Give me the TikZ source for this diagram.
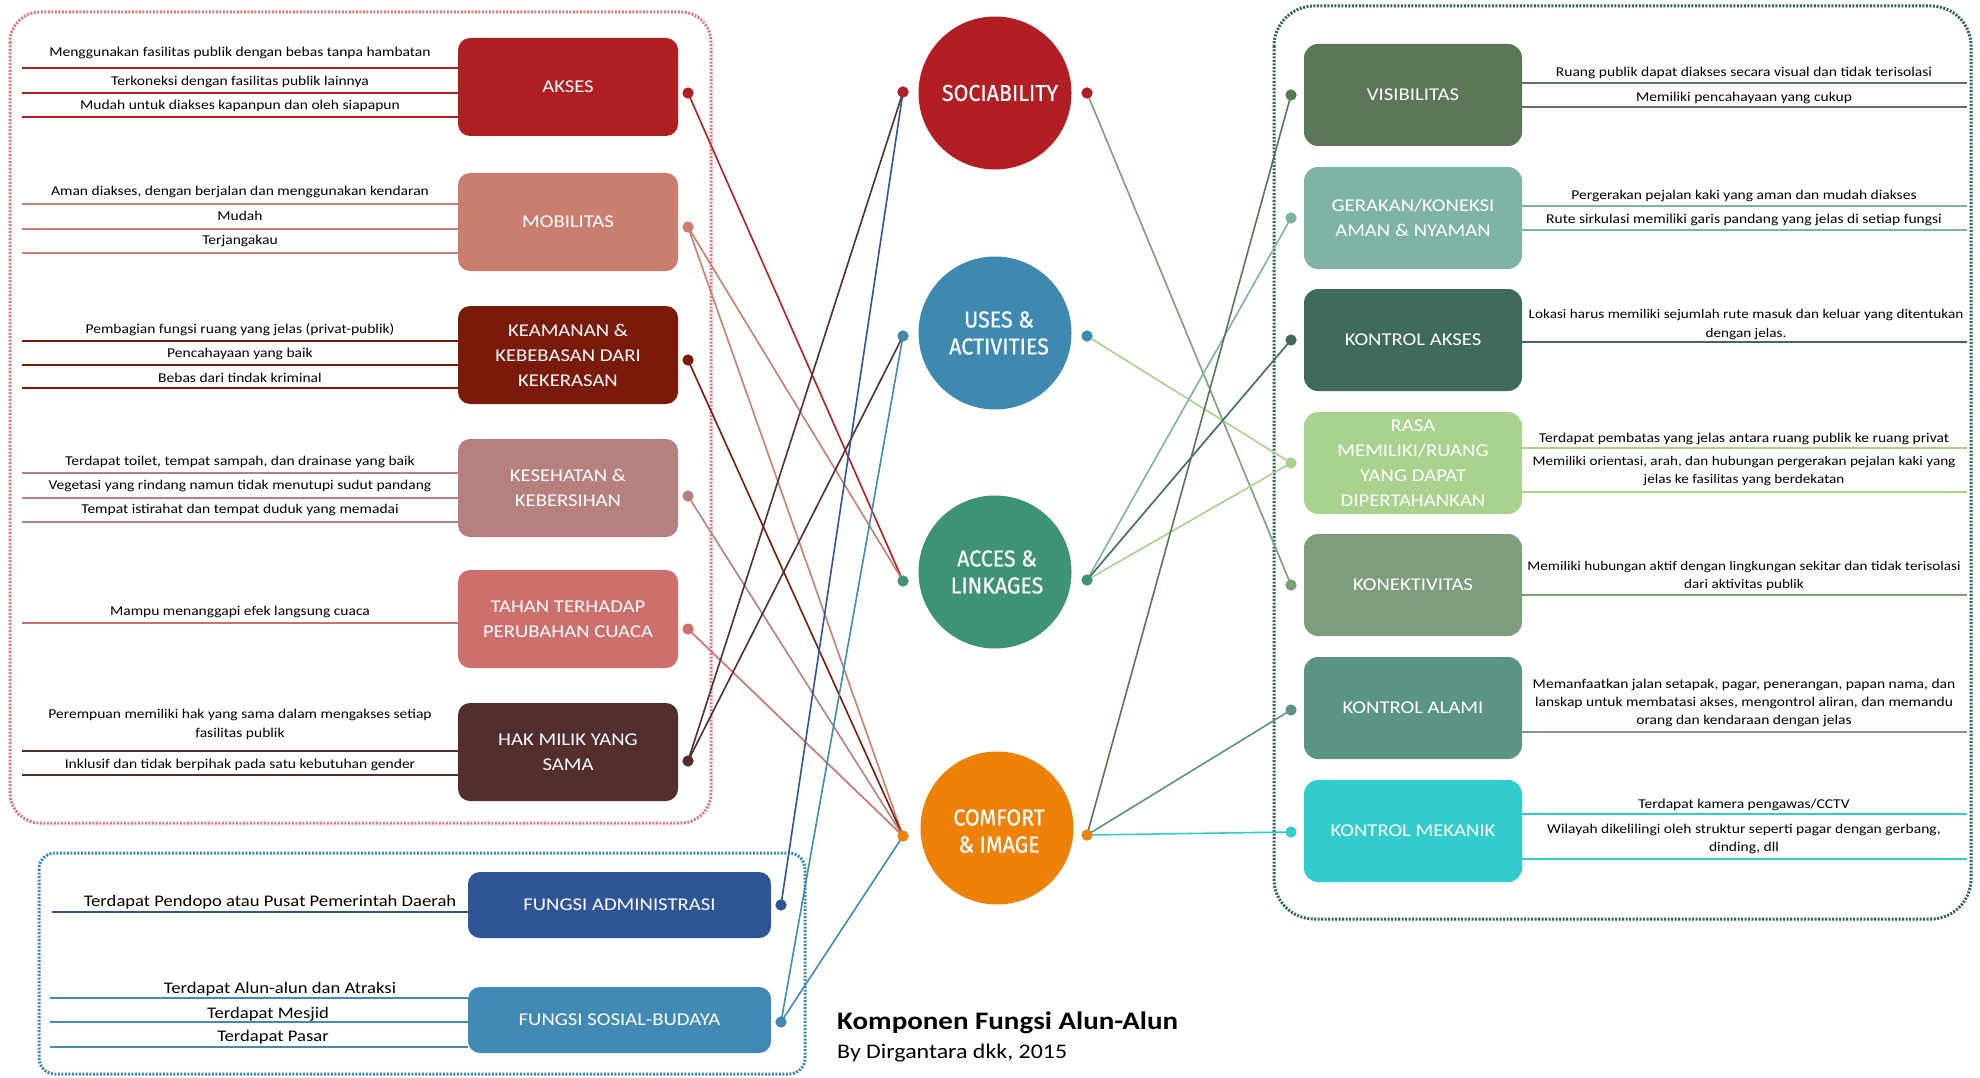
\documentclass[tikz,border=0pt]{standalone}
\usepackage{fontspec}
\setmainfont{Carlito}[FakeStretch=1.15]
\newfontfamily\circfont{Fira Sans}[FakeStretch=0.93,FakeBold=0.6]
\definecolor{cAkses}{HTML}{B02023}
\definecolor{cMob}{HTML}{C97E70}
\definecolor{cKeam}{HTML}{7A1A0B}
\definecolor{cKes}{HTML}{B5807E}
\definecolor{cTahan}{HTML}{CD6F6D}
\definecolor{cHak}{HTML}{522E2F}
\definecolor{cAdm}{HTML}{2F5597}
\definecolor{cSos}{HTML}{418AB3}
\definecolor{cSoc}{HTML}{B11F24}
\definecolor{cUses}{HTML}{3F88B0}
\definecolor{cAcc}{HTML}{3E9275}
\definecolor{cCom}{HTML}{EE8209}
\definecolor{cVis}{HTML}{5B7757}
\definecolor{cGer}{HTML}{7FB3A5}
\definecolor{cKA}{HTML}{3E6B5E}
\definecolor{cRasa}{HTML}{A8D28D}
\definecolor{cKon}{HTML}{7E9D7B}
\definecolor{cKAl}{HTML}{5A9484}
\definecolor{cKM}{HTML}{33CCCC}
\definecolor{cRedDot}{HTML}{E07A7E}
\definecolor{cBlueDot}{HTML}{3F88B0}
\definecolor{cGreenDot}{HTML}{2E6553}
\begin{document}
\begin{tikzpicture}[x=1pt,y=-1pt,
 lbox/.style={fill=#1, rounded corners=12, minimum width=220, minimum height=98, text=white, align=center, inner sep=0, font=\fontsize{18}{25}\selectfont},
 rbox/.style={fill=#1, rounded corners=14, minimum width=218, minimum height=102, text=white, align=center, inner sep=0, font=\fontsize{18}{25}\selectfont},
 bbox/.style={fill=#1, rounded corners=12, minimum width=303, minimum height=66, text=white, align=center, inner sep=0, font=\fontsize{18}{25}\selectfont},
 circ/.style={circle, fill=#1, minimum size=153, inner sep=0},
 ctext/.style={text=white, align=center, inner sep=0, font=\circfont\fontsize{23}{27}\selectfont},
 dot/.style={circle, fill=#1, minimum size=11, inner sep=0},
 stext/.style={anchor=base, inner sep=0, font=\fontsize{13.5}{18}\selectfont},
 ltext/.style={anchor=base, inner sep=0, font=\fontsize{13.2}{18}\selectfont},
 btext/.style={anchor=base, inner sep=0, font=\fontsize{16.2}{20}\selectfont},
 uline/.style={draw=#1, line width=2},
 conn/.style={draw=#1, line width=1.6},
 border/.style={draw=#1, line width=3, dash pattern=on 2pt off 1.5pt},
]
\fill[white] (0,0) rectangle (1980,1078);
\useasboundingbox (0,0) rectangle (1980,1078);

% group borders
\draw[border=cRedDot, rounded corners=30] (10,12) rectangle (711,823);
\draw[border=cBlueDot, rounded corners=16] (39,853) rectangle (805,1074);
\draw[border=cGreenDot, rounded corners=40] (1274,6) rectangle (1971,919);

% ---------- left boxes ----------
\node[lbox=cAkses] (akses) at (568,87) {AKSES};
\node[lbox=cMob] (mob) at (568,222) {MOBILITAS};
\node[lbox=cKeam] (keam) at (568,355) {KEAMANAN \&\\KEBEBASAN DARI\\KEKERASAN};
\node[lbox=cKes] (kes) at (568,488) {KESEHATAN \&\\KEBERSIHAN};
\node[lbox=cTahan] (tahan) at (568,619) {TAHAN TERHADAP\\PERUBAHAN CUACA};
\node[lbox=cHak] (hak) at (568,752) {HAK MILIK YANG\\SAMA};

% underlines left
\foreach \y in {68,93,117} \draw[uline=cAkses] (22,\y) -- (458,\y);
\foreach \y in {204,229,253} \draw[uline=cMob] (22,\y) -- (458,\y);
\foreach \y in {341,365,388} \draw[uline=cKeam] (22,\y) -- (458,\y);
\foreach \y in {473,498,522} \draw[uline=cKes] (22,\y) -- (458,\y);
\foreach \y in {623} \draw[uline=cTahan] (22,\y) -- (458,\y);
\foreach \y in {751,775} \draw[uline=cHak] (22,\y) -- (458,\y);

\node[stext] (a1) at (240,57) {Menggunakan fasilitas publik dengan bebas tanpa hambatan};
\node[stext] (a2) at (240,86) {Terkoneksi dengan fasilitas publik lainnya};
\node[stext] (a3) at (240,110) {Mudah untuk diakses kapanpun dan oleh siapapun};
\node[stext] (m1) at (240,196) {Aman diakses, dengan berjalan dan menggunakan kendaran};
\node[stext] (m2) at (240,221) {Mudah};
\node[stext] (m3) at (240,244) {Terjangakau};
\node[stext] (k1) at (240,333) {Pembagian fungsi ruang yang jelas (privat-publik)};
\node[stext] (k2) at (240,357) {Pencahayaan yang baik};
\node[stext] (k3) at (240,382) {Bebas dari tindak kriminal};
\node[stext] (s1) at (240,465) {Terdapat toilet, tempat sampah, dan drainase yang baik};
\node[stext] (s2) at (240,489) {Vegetasi yang rindang namun tidak menutupi sudut pandang};
\node[stext] (s3) at (240,513) {Tempat istirahat dan tempat duduk yang memadai};
\node[stext] (t1) at (240,615) {Mampu menanggapi efek langsung cuaca};
\node[stext] (h1) at (240,718) {Perempuan memiliki hak yang sama dalam mengakses setiap};
\node[stext] (h2) at (240,737) {fasilitas publik};
\node[stext] (h3) at (240,768) {Inklusif dan tidak berpihak pada satu kebutuhan gender};

% ---------- bottom boxes ----------
\node[bbox=cAdm] (adm) at (619.5,905) {FUNGSI ADMINISTRASI};
\node[bbox=cSos] (sos) at (619.5,1020) {FUNGSI SOSIAL-BUDAYA};
\draw[uline=cAdm] (52,912) -- (468,912);
\foreach \y in {998,1022,1047} \draw[uline=cSos] (50,\y) -- (468,\y);
\node[btext] (b1) at (270,906) {Terdapat Pendopo atau Pusat Pemerintah Daerah};
\node[btext] (b2) at (280,993) {Terdapat Alun-alun dan Atraksi};
\node[btext] (b3) at (268,1018) {Terdapat Mesjid};
\node[btext] (b4) at (273,1041) {Terdapat Pasar};

% ---------- right boxes ----------
\node[rbox=cVis] (vis) at (1413,95) {VISIBILITAS};
\node[rbox=cGer] (ger) at (1413,218) {GERAKAN/KONEKSI\\AMAN \& NYAMAN};
\node[rbox=cKA] (ka) at (1413,340) {KONTROL AKSES};
\node[rbox=cRasa] (rasa) at (1413,463) {RASA\\MEMILIKI/RUANG\\YANG DAPAT\\DIPERTAHANKAN};
\node[rbox=cKon] (kon) at (1413,585) {KONEKTIVITAS};
\node[rbox=cKAl] (kal) at (1413,708) {KONTROL ALAMI};
\node[rbox=cKM] (km) at (1413,831) {KONTROL MEKANIK};

\foreach \y in {83,107} \draw[uline=cVis] (1522,\y) -- (1967,\y);
\foreach \y in {206,230} \draw[uline=cGer] (1522,\y) -- (1967,\y);
\foreach \y in {342} \draw[uline=cKA] (1522,\y) -- (1967,\y);
\foreach \y in {448,492} \draw[uline=cRasa] (1522,\y) -- (1967,\y);
\foreach \y in {595} \draw[uline=cKon] (1522,\y) -- (1967,\y);
\foreach \y in {732} \draw[uline=cKon] (1522,\y) -- (1967,\y);
\foreach \y in {814,859} \draw[uline=cKM] (1522,\y) -- (1967,\y);

\node[stext] (v1) at (1744,77) {Ruang publik dapat diakses secara visual dan tidak terisolasi};
\node[stext] (v2) at (1744,102) {Memiliki pencahayaan yang cukup};
\node[stext] (g1) at (1744,200) {Pergerakan pejalan kaki yang aman dan mudah diakses};
\node[stext] (g2) at (1744,223) {Rute sirkulasi memiliki garis pandang yang jelas di setiap fungsi};
\node[ltext] (ka1) at (1746,318) {Lokasi harus memiliki sejumlah rute masuk dan keluar yang ditentukan};
\node[ltext] (ka2) at (1746,337) {dengan jelas.};
\node[stext] (r1) at (1744,442) {Terdapat pembatas yang jelas antara ruang publik ke ruang privat};
\node[ltext] (r2) at (1744,465) {Memiliki orientasi, arah, dan hubungan pergerakan pejalan kaki yang};
\node[ltext] (r3) at (1744,483) {jelas ke fasilitas yang berdekatan};
\node[ltext] (n1) at (1744,570) {Memiliki hubungan aktif dengan lingkungan sekitar dan tidak terisolasi};
\node[ltext] (n2) at (1744,588) {dari aktivitas publik};
\node[stext] (l1) at (1744,688) {Memanfaatkan jalan setapak, pagar, penerangan, papan nama, dan};
\node[stext] (l2) at (1744,706) {lanskap untuk membatasi akses, mengontrol aliran, dan memandu};
\node[stext] (l3) at (1744,724) {orang dan kendaraan dengan jelas};
\node[stext] (e1) at (1744,808) {Terdapat kamera pengawas/CCTV};
\node[stext] (e2) at (1744,833) {Wilayah dikelilingi oleh struktur seperti pagar dengan gerbang,};
\node[stext] (e3) at (1744,851) {dinding, dll};

% ---------- circles ----------
\node[circ=cSoc] (soc) at (995,93) {};
\node[circ=cUses] (uses) at (995,333) {};
\node[circ=cAcc] (acc) at (995,572) {};
\node[circ=cCom] (com) at (997,828) {};
\node[ctext] (socT) at ([xshift=5pt]soc.center) {SOCIABILITY};
\node[ctext] (usesT) at ([xshift=4pt]uses.center) {USES \&\\ACTIVITIES};
\node[ctext] (accT) at ([xshift=2pt]acc.center) {ACCES \&\\LINKAGES};
\node[ctext] (comT) at ([xshift=2pt,yshift=-3pt]com.center) {COMFORT\\\& IMAGE};

% ---------- dots ----------
\node[dot=cAkses] (aksesD) at (688,93) {};
\node[dot=cMob] (mobD) at (688,227) {};
\node[dot=cKeam] (keamD) at (688,360) {};
\node[dot=cKes] (kesD) at (688,496) {};
\node[dot=cTahan] (tahanD) at (688,629) {};
\node[dot=cHak] (hakD) at (688,761) {};
\node[dot=cAdm] (admD) at (781,905) {};
\node[dot=cSos] (sosD) at (781,1022) {};

\node[dot=cSoc] (socL) at (903,92) {};
\node[dot=cSoc] (socR) at (1087,93) {};
\node[dot=cUses] (usesL) at (903,336) {};
\node[dot=cUses] (usesR) at (1087,336) {};
\node[dot=cAcc] (accL) at (903,581) {};
\node[dot=cAcc] (accR) at (1087,580) {};
\node[dot=cCom] (comL) at (903,836) {};
\node[dot=cCom] (comR) at (1087,835) {};

\node[dot=cVis] (visD) at (1291,95) {};
\node[dot=cGer] (gerD) at (1291,218) {};
\node[dot=cKA] (kaD) at (1291,340) {};
\node[dot=cRasa] (rasaD) at (1291,463) {};
\node[dot=cKon] (konD) at (1291,585) {};
\node[dot=cKAl] (kalD) at (1291,710) {};
\node[dot=cKM] (kmD) at (1291,832) {};

% ---------- connectors ----------
\draw[conn=cAkses] (aksesD.center) -- (accL.center);
\draw[conn=cMob] (mobD.center) -- (accL.center);
\draw[conn=cMob] (mobD.center) -- (comL.center);
\draw[conn=cKeam] (keamD.center) -- (comL.center);
\draw[conn=cKes] (kesD.center) -- (comL.center);
\draw[conn=cTahan] (tahanD.center) -- (comL.center);
\draw[conn=cHak] (hakD.center) -- (socL.center);
\draw[conn=cHak] (hakD.center) -- (usesL.center);
\draw[conn=cAdm] (admD.center) -- (socL.center);
\draw[conn=cSos] (sosD.center) -- (usesL.center);
\draw[conn=cSos] (sosD.center) -- (comL.center);

\draw[conn=cKon] (socR.center) -- (konD.center);
\draw[conn=cRasa] (usesR.center) -- (rasaD.center);
\draw[conn=cGer] (accR.center) -- (gerD.center);
\draw[conn=cKA] (accR.center) -- (kaD.center);
\draw[conn=cRasa] (accR.center) -- (rasaD.center);
\draw[conn=cVis] (comR.center) -- (visD.center);
\draw[conn=cKAl] (comR.center) -- (kalD.center);
\draw[conn=cKM] (comR.center) -- (kmD.center);

% redraw dots on top
\foreach \n/\c in {aksesD/cAkses,mobD/cMob,keamD/cKeam,kesD/cKes,tahanD/cTahan,hakD/cHak,admD/cAdm,sosD/cSos,socL/cSoc,socR/cSoc,usesL/cUses,usesR/cUses,accL/cAcc,accR/cAcc,comL/cCom,comR/cCom,visD/cVis,gerD/cGer,kaD/cKA,rasaD/cRasa,konD/cKon,kalD/cKAl,kmD/cKM}
  \fill[\c] (\n.center) circle (5.5);

% ---------- title ----------
\node[anchor=base west, inner sep=0, font=\bfseries\fontsize{25.2}{30}\selectfont] (title) at (837,1029) {Komponen Fungsi Alun-Alun};
\node[anchor=base west, inner sep=0, font=\fontsize{20.8}{24}\selectfont] (sub) at (837,1058) {By Dirgantara dkk, 2015};
\end{tikzpicture}
\end{document}
